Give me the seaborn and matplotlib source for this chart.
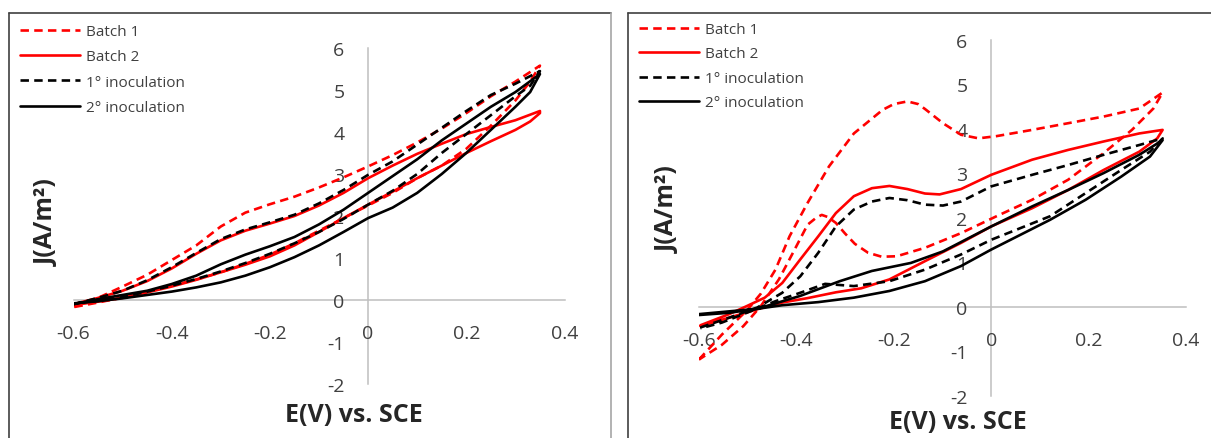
import numpy as np
import matplotlib
matplotlib.use("Agg")
import matplotlib.pyplot as plt
from matplotlib.lines import Line2D
import seaborn as sns

# Cyclic voltammetry loops (E in V vs SCE, J in A/m2)
# ---- left panel ----
L_b1_E = [-0.6, -0.55, -0.5, -0.45, -0.4, -0.35, -0.3, -0.25, -0.2, -0.15, -0.1, -0.05, 0.0, 0.05, 0.1, 0.15, 0.2, 0.25, 0.3, 0.35,
          0.33, 0.3, 0.25, 0.2, 0.15, 0.1, 0.05, 0.0, -0.05, -0.1, -0.15, -0.2, -0.25, -0.3, -0.35, -0.4, -0.45, -0.5, -0.55, -0.6]
L_b1_J = [-0.15, 0.05, 0.32, 0.6, 0.95, 1.3, 1.75, 2.08, 2.28, 2.46, 2.68, 2.92, 3.18, 3.45, 3.75, 4.08, 4.45, 4.85, 5.2, 5.58,
          5.2, 4.75, 4.15, 3.6, 3.2, 2.9, 2.55, 2.25, 1.95, 1.65, 1.35, 1.08, 0.86, 0.66, 0.49, 0.34, 0.2, 0.06, -0.06, -0.17]

L_b2_E = [-0.6, -0.55, -0.5, -0.45, -0.4, -0.35, -0.3, -0.25, -0.2, -0.15, -0.1, -0.05, 0.0, 0.05, 0.1, 0.15, 0.2, 0.25, 0.3, 0.35,
          0.35, 0.33, 0.3, 0.25, 0.2, 0.15, 0.1, 0.05, 0.0, -0.05, -0.1, -0.15, -0.2, -0.25, -0.3, -0.35, -0.4, -0.45, -0.5, -0.55, -0.6]
L_b2_J = [-0.1, 0.05, 0.22, 0.45, 0.75, 1.1, 1.42, 1.65, 1.82, 2.0, 2.25, 2.55, 2.9, 3.2, 3.48, 3.72, 3.95, 4.12, 4.28, 4.5,
          4.45, 4.25, 4.05, 3.78, 3.5, 3.2, 2.9, 2.58, 2.27, 1.95, 1.62, 1.3, 1.04, 0.84, 0.66, 0.48, 0.32, 0.18, 0.05, -0.04, -0.12]

L_i1_E = [-0.6, -0.55, -0.5, -0.45, -0.4, -0.35, -0.3, -0.25, -0.2, -0.15, -0.1, -0.05, 0.0, 0.05, 0.1, 0.15, 0.2, 0.25, 0.3, 0.35,
          0.33, 0.3, 0.25, 0.2, 0.15, 0.1, 0.05, 0.0, -0.05, -0.1, -0.15, -0.2, -0.25, -0.3, -0.35, -0.4, -0.45, -0.5, -0.55, -0.6]
L_i1_J = [-0.1, 0.05, 0.22, 0.47, 0.78, 1.12, 1.45, 1.68, 1.85, 2.03, 2.3, 2.62, 2.98, 3.3, 3.7, 4.1, 4.5, 4.88, 5.15, 5.45,
          5.1, 4.85, 4.4, 3.95, 3.5, 3.0, 2.6, 2.27, 1.93, 1.62, 1.35, 1.1, 0.88, 0.68, 0.5, 0.34, 0.2, 0.07, -0.02, -0.08]

L_i2_E = [-0.6, -0.55, -0.5, -0.45, -0.4, -0.35, -0.3, -0.25, -0.2, -0.15, -0.1, -0.05, 0.0, 0.05, 0.1, 0.15, 0.2, 0.25, 0.3, 0.35,
          0.33, 0.3, 0.25, 0.2, 0.15, 0.1, 0.05, 0.0, -0.05, -0.1, -0.15, -0.2, -0.25, -0.3, -0.35, -0.4, -0.45, -0.5, -0.55, -0.6]
L_i2_J = [-0.1, 0.02, 0.12, 0.22, 0.38, 0.58, 0.85, 1.08, 1.28, 1.5, 1.8, 2.15, 2.55, 2.95, 3.35, 3.8, 4.2, 4.6, 4.95, 5.38,
          4.95, 4.6, 4.05, 3.5, 3.0, 2.55, 2.2, 1.95, 1.62, 1.3, 1.02, 0.78, 0.58, 0.42, 0.3, 0.2, 0.12, 0.04, -0.03, -0.08]

# ---- right panel ----
R_b1_E = [-0.6, -0.553, -0.502, -0.473, -0.443, -0.414, -0.377, -0.333, -0.282, -0.223, -0.2, -0.172, -0.15, -0.136, -0.099,
          -0.062, -0.026, 0.011, 0.084, 0.158, 0.231, 0.304, 0.352,
          0.333, 0.289, 0.231, 0.158, 0.084, 0.011, -0.062, -0.136, -0.194, -0.225, -0.253, -0.28, -0.3, -0.319, -0.335,
          -0.348, -0.36, -0.377, -0.407, -0.436, -0.473, -0.509, -0.553, -0.6]
R_b1_J = [-1.18, -0.62, -0.08, 0.3, 0.84, 1.59, 2.34, 3.16, 3.9, 4.43, 4.56, 4.62, 4.56, 4.45, 4.13,
          3.87, 3.79, 3.84, 3.98, 4.13, 4.28, 4.46, 4.82,
          4.46, 3.98, 3.46, 2.86, 2.41, 2.04, 1.66, 1.33, 1.14, 1.13, 1.22, 1.42, 1.65, 1.89, 2.02,
          2.07, 2.0, 1.85, 1.22, 0.62, 0.02, -0.43, -0.85, -1.18]

R_b2_E = [-0.597, -0.538, -0.502, -0.465, -0.429, -0.392, -0.355, -0.319, -0.282, -0.245, -0.209, -0.172, -0.136, -0.106, -0.062,
          0.0, 0.084, 0.158, 0.231, 0.304, 0.352,
          0.341, 0.304, 0.231, 0.158, 0.084, 0.0, -0.062, -0.136, -0.209, -0.267, -0.319, -0.377, -0.429, -0.48, -0.538, -0.597]
R_b2_J = [-0.41, -0.16, 0.02, 0.21, 0.54, 1.07, 1.59, 2.11, 2.49, 2.67, 2.72, 2.65, 2.55, 2.53, 2.65,
          2.97, 3.31, 3.53, 3.72, 3.9, 3.98,
          3.79, 3.49, 3.08, 2.63, 2.22, 1.81, 1.44, 1.03, 0.62, 0.42, 0.33, 0.2, 0.1, -0.05, -0.24, -0.43]

R_i1_E = [-0.597, -0.538, -0.48, -0.429, -0.392, -0.355, -0.319, -0.282, -0.245, -0.209, -0.172, -0.136, -0.099, -0.062,
          0.0, 0.084, 0.158, 0.231, 0.304, 0.352,
          0.326, 0.267, 0.194, 0.121, 0.0, -0.062, -0.136, -0.209, -0.282, -0.341, -0.392, -0.443, -0.502, -0.553, -0.597]
R_i1_J = [-0.46, -0.24, -0.01, 0.32, 0.69, 1.22, 1.81, 2.19, 2.37, 2.45, 2.4, 2.3, 2.28, 2.37,
          2.71, 2.97, 3.19, 3.42, 3.64, 3.79,
          3.49, 3.08, 2.56, 2.04, 1.51, 1.18, 0.84, 0.58, 0.47, 0.52, 0.32, 0.13, -0.13, -0.35, -0.48]

R_i2_E = [-0.6, -0.48, -0.392, -0.311, -0.245, -0.165, -0.099, 0.0, 0.084, 0.158, 0.231, 0.304, 0.352,
          0.326, 0.267, 0.194, 0.121, 0.0, -0.062, -0.136, -0.209, -0.282, -0.355, -0.429, -0.48, -0.538, -0.6]
R_i2_J = [-0.16, -0.04, 0.25, 0.58, 0.81, 0.99, 1.25, 1.81, 2.26, 2.63, 3.01, 3.42, 3.75,
          3.38, 2.93, 2.41, 1.96, 1.29, 0.92, 0.58, 0.36, 0.21, 0.11, 0.04, -0.04, -0.13, -0.18]

series_names = ["Batch 1", "Batch 2", "1° inoculation", "2° inoculation"]
x_ticks = [-0.6, -0.4, -0.2, 0, 0.2, 0.4]
x_tick_labels = ["-0.6", "-0.4", "-0.2", "0", "0.2", "0.4"]
y_ticks = [-2, -1, 0, 1, 2, 3, 4, 5, 6]
y_tick_labels = ["-2", "-1", "0", "1", "2", "3", "4", "5", "6"]

sns.set_theme(style="white")
plt.rcParams["font.family"] = ["Open Sans", "DejaVu Sans"]

W, H = 1211, 439
fig = plt.figure(figsize=(W / 100, H / 100), dpi=100)


def rect(x0, x1, ytop, ybot):
    return [x0 / W, 1 - ybot / H, (x1 - x0) / W, (ybot - ytop) / H]


# chart-area frames
for xs, ys, col in [([8.5, 8.5], [445, 13.5], "#404040"), ([8.5, 610.5], [13.5, 13.5], "#404040"),
                    ([610.5, 610.5], [13.5, 445], "#a6a6a6"),
                    ([627.5, 627.5], [445, 13.5], "#404040"), ([627.5, 1215], [13.5, 13.5], "#404040")]:
    fig.add_artist(Line2D([x / W for x in xs], [1 - y / H for y in ys], color=col, lw=1.2))

dash = (0, (3.2, 2.0))
styles = [("red", dash), ("red", "-"), ("black", dash), ("black", "-")]

panels = [
    dict(box=rect(73.5, 564.5, 49, 385), data=[(L_b1_E, L_b1_J), (L_b2_E, L_b2_J), (L_i1_E, L_i1_J), (L_i2_E, L_i2_J)],
         legend=(20, 25), spacing=0.68, xlab=(354, 415), ylab=(47, 223)),
    dict(box=rect(699, 1186, 41, 397), data=[(R_b1_E, R_b1_J), (R_b2_E, R_b2_J), (R_i1_E, R_i1_J), (R_i2_E, R_i2_J)],
         legend=(639, 23), spacing=0.62, xlab=(958, 423), ylab=(668, 210)),
]

for p in panels:
    ax = fig.add_axes(p["box"])
    for (E, J), (col, ls), name in zip(p["data"], styles, series_names):
        sns.lineplot(x=E, y=J, sort=False, estimator=None, color=col, linestyle=ls,
                     linewidth=1.9, label=name, ax=ax, legend=False)
    ax.set_xlim(-0.6, 0.4)
    ax.set_ylim(-2, 6)
    for s in ["top", "right"]:
        ax.spines[s].set_visible(False)
    ax.spines["left"].set_position(("data", 0))
    ax.spines["bottom"].set_position(("data", 0))
    for s in ["left", "bottom"]:
        ax.spines[s].set_color("#bfbfbf")
        ax.spines[s].set_linewidth(1.1)
        ax.spines[s].set_zorder(0)
    ax.set_xticks(x_ticks, x_tick_labels)
    ax.set_yticks(y_ticks, y_tick_labels)
    ax.tick_params(length=0, labelsize=14, labelcolor="#404040", pad=17)
    ax.set_xlabel("")
    ax.set_ylabel("")
    ax.patch.set_alpha(0)

    fig.text(p["xlab"][0] / W, 1 - p["xlab"][1] / H, "E(V) vs. SCE", ha="center", va="center",
             fontsize=18, fontweight="bold", color="#262626")
    fig.text(p["ylab"][0] / W, 1 - p["ylab"][1] / H, "J(A/m²)", ha="center", va="center",
             rotation=90, fontsize=18, fontweight="bold", color="#262626")

    handles = ax.get_lines()[:4]
    ax.legend(handles, series_names, loc="upper left",
              bbox_to_anchor=(p["legend"][0] / W, 1 - p["legend"][1] / H), bbox_transform=fig.transFigure,
              frameon=False, fontsize=11, handlelength=3.9, handletextpad=0.4, labelspacing=p["spacing"],
              borderpad=0, borderaxespad=0, labelcolor="#404040")

fig.savefig("out.png", dpi=100)
